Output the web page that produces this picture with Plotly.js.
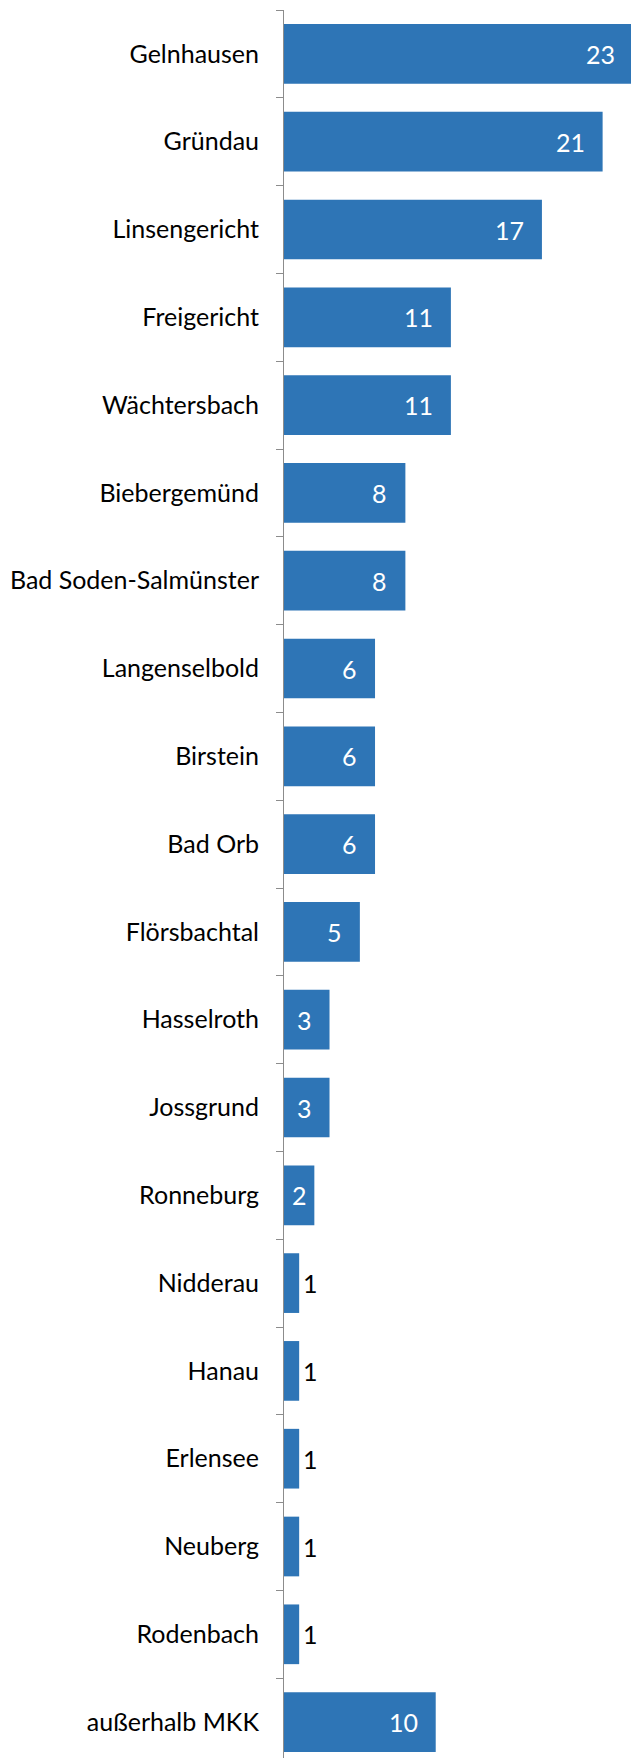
<!DOCTYPE html>
<html>
<head>
<meta charset="utf-8">
<script src="https://cdn.plot.ly/plotly-3.0.1.min.js"></script>
<style>
html,body{margin:0;padding:0;overflow:hidden;background:#fff;}
#chart{width:640px;height:1766px;}
</style>
</head>
<body>
<div id="chart"></div>
<script>
const categories = ["Gelnhausen","Gründau","Linsengericht","Freigericht","Wächtersbach","Biebergemünd","Bad Soden-Salmünster","Langenselbold","Birstein","Bad Orb","Flörsbachtal","Hasselroth","Jossgrund","Ronneburg","Nidderau","Hanau","Erlensee","Neuberg","Rodenbach","außerhalb MKK"];
const values = [23,21,17,11,11,8,8,6,6,6,5,3,3,2,1,1,1,1,1,10];

const FONT = "Lato, 'Open Sans', sans-serif";
const W = 640, ML = 284, MR = 4, XMAX = 23.2;
const pxPerUnit = (W - ML - MR) / XMAX;
const PAD = 16;

const annotations = values.map((v, i) => {
  const barPx = v * pxPerUnit;
  const textPx = 13 * String(v).length;
  let a = {x: v, y: categories[i], xref: "x", yref: "y", text: String(v), showarrow: false,
           font: {family: FONT, size: 25, color: "#ffffff"}};
  if (barPx >= textPx + 2 * PAD) {
    a.xanchor = "right"; a.xshift = -PAD;
  } else if (barPx >= textPx + 8) {
    a.x = v / 2; a.xanchor = "center";
  } else {
    a.xanchor = "left"; a.xshift = 2; a.font.color = "#000000";
  }
  return a;
});

Plotly.newPlot("chart", [{
  type: "bar", orientation: "h",
  x: values, y: categories,
  marker: {color: "#2E75B6"},
  hoverinfo: "none"
}], {
  width: W, height: 1766,
  margin: {l: ML, r: MR, t: 10, b: 0},
  paper_bgcolor: "#fff", plot_bgcolor: "#fff",
  bargap: 0.32,
  showlegend: false,
  xaxis: {range: [0, XMAX], visible: false, fixedrange: true},
  yaxis: {
    autorange: "reversed", showline: true, linecolor: "#8c8c8c", linewidth: 1,
    ticks: "outside", tickson: "boundaries", ticklen: 7, tickcolor: "#8c8c8c",
    ticklabelstandoff: 19,
    showgrid: false, zeroline: false,
    tickfont: {family: FONT, size: 25, color: "#000"}
  },
  annotations: annotations
}, {staticPlot: true});
</script>
</body>
</html>
